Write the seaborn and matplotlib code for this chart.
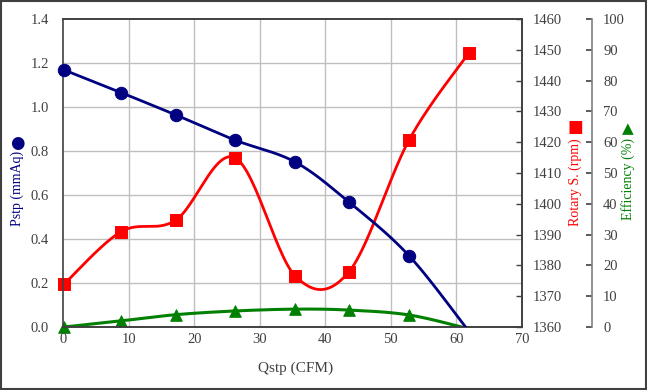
import numpy as np
import matplotlib
matplotlib.use("Agg")
import matplotlib.pyplot as plt
import seaborn as sns
import pandas as pd
from matplotlib.patches import Rectangle

# ---- data ----
qstp = [0.2, 8.9, 17.2, 26.2, 35.4, 43.6, 52.8, 61.9]
pstp = [1.168, 1.065, 0.964, 0.850, 0.750, 0.568, 0.323, -0.02]
rotary = [1374.0, 1391.0, 1394.7, 1415.0, 1376.6, 1377.9, 1420.8, 1449.0]
efficiency = [0.0, 2.0, 4.0, 5.2, 5.8, 5.5, 3.9, -0.6]

xticks = list(range(0, 71, 10))
pticks = [0.0, 0.2, 0.4, 0.6, 0.8, 1.0, 1.2, 1.4]
rticks = list(range(1360, 1461, 10))
eticks = list(range(0, 101, 10))

NAVY = "#000080"
RED = "#FF0000"
GREEN = "#008000"
DARK = "#404040"

sns.set_theme(style="white")
plt.rcParams['font.family'] = ['Liberation Serif', 'DejaVu Sans']

W, H = 647, 390
fig = plt.figure(figsize=(W / 100, H / 100), dpi=100)
L, R, T, B = 63, 522, 19, 327
ax = fig.add_axes([L / W, 1 - B / H, (R - L) / W, (B - T) / H])
ax2 = ax.twinx()
ax3 = ax.twinx()


def smooth(x, y, xlim, ylim, n=30):
    # Catmull-Rom smoothing done in normalized axis space
    x = np.asarray(x, float); y = np.asarray(y, float)
    xs = (x - xlim[0]) / (xlim[1] - xlim[0])
    ys = (y - ylim[0]) / (ylim[1] - ylim[0])
    P = np.column_stack([xs, ys])
    P = np.vstack([P[0], P, P[-1]])
    out = []
    for i in range(1, len(P) - 2):
        p0, p1, p2, p3 = P[i - 1], P[i], P[i + 1], P[i + 2]
        t = np.linspace(0, 1, n)[:, None]
        seg = 0.5 * ((2 * p1) + (-p0 + p2) * t + (2 * p0 - 5 * p1 + 4 * p2 - p3) * t ** 2
                     + (-p0 + 3 * p1 - 3 * p2 + p3) * t ** 3)
        out.append(seg)
    S = np.vstack(out)
    return S[:, 0] * (xlim[1] - xlim[0]) + xlim[0], S[:, 1] * (ylim[1] - ylim[0]) + ylim[0]


xlim = (0, 70)
df = pd.DataFrame({"q": qstp, "p": pstp, "r": rotary, "e": efficiency})

# efficiency (back)
sx, sy = smooth(qstp, efficiency, xlim, (0, 100))
ax3.plot(sx, sy, color=GREEN, lw=2.2, zorder=3)
sns.scatterplot(data=df[df.e >= 0], x="q", y="e", ax=ax3, marker="^", s=70, color=GREEN,
                edgecolor=GREEN, zorder=4, clip_on=False)

# rotary
sx, sy = smooth(qstp, rotary, xlim, (1360, 1460))
ax2.plot(sx, sy, color=RED, lw=2.0, zorder=3)
sns.scatterplot(data=df, x="q", y="r", ax=ax2, marker="s", s=75, color=RED,
                edgecolor=RED, zorder=4, clip_on=False)

# pstp
sx, sy = smooth(qstp, pstp, xlim, (0, 1.4))
ax.plot(sx, sy, color=NAVY, lw=2.0, zorder=3)
sns.scatterplot(data=df[df.p >= 0], x="q", y="p", ax=ax, marker="o", s=80, color=NAVY,
                edgecolor=NAVY, zorder=4, clip_on=False)

ax.set_zorder(3); ax2.set_zorder(2); ax3.set_zorder(1)
ax.patch.set_visible(False)

# axes setup
ax.set_xlim(*xlim); ax.set_ylim(0, 1.4)
ax2.set_ylim(1360, 1460); ax3.set_ylim(0, 100)
ax.set_xticks(xticks); ax.set_yticks(pticks)
ax.set_yticklabels([f"{v:.1f}" for v in pticks])
ax2.set_yticks(rticks); ax3.set_yticks(eticks)
for a in (ax, ax2, ax3):
    a.set_xlabel(""); a.set_ylabel("")

ax3.grid(False); ax2.grid(False)
ax3.set_xlim(*xlim); ax2.set_xlim(*xlim)
for xv in xticks[1:-1]:
    ax3.axvline(xv, color="#BFBFBF", lw=1.0, zorder=0)
for pv in pticks[1:-1]:
    ax3.axhline(pv / 1.4 * 100, color="#BFBFBF", lw=1.0, zorder=0)
ax3.tick_params(axis="x", bottom=False, labelbottom=False)

tick_kw = dict(labelsize=10.5, labelcolor=DARK, colors=DARK)
ax.tick_params(axis="x", direction="in", length=4, width=1, pad=4, **tick_kw)
ax.tick_params(axis="y", direction="in", length=0, pad=10, **tick_kw)
ax2.tick_params(axis="y", direction="in", length=4, width=1, pad=8, **tick_kw)
ax3.tick_params(axis="y", direction="in", length=4, width=1.2, pad=8, **tick_kw)

for a in (ax, ax2):
    for s in a.spines.values():
        s.set_color(DARK); s.set_linewidth(1.2)
for name, s in ax3.spines.items():
    s.set_visible(name == "right")
ax3.spines["right"].set_position(("axes", (592 - L) / (R - L)))
ax3.spines["right"].set_color("#808080")
ax3.spines["right"].set_linewidth(1.2)
ax2.spines["left"].set_visible(False)

# labels
fig.text(17 / W, 1 - 188 / H, "Pstp (mmAq)", rotation=90, ha="center", va="center",
         color=NAVY, fontsize=10)
fig.text(17 / W, 1 - 143 / H, "●", ha="center", va="center",
         color=NAVY, fontsize=12, family="DejaVu Sans")
fig.text(575 / W, 1 - 182 / H, "Rotary S. (rpm)", rotation=90, ha="center", va="center",
         color=RED, fontsize=10)
fig.text(575 / W, 1 - 127 / H, "■", ha="center", va="center",
         color=RED, fontsize=12, family="DejaVu Sans")
fig.text(628 / W, 1 - 179 / H, "Efficiency (%)", rotation=90, ha="center", va="center",
         color=GREEN, fontsize=10)
fig.text(628 / W, 1 - 129 / H, "▲", ha="center", va="center",
         color=GREEN, fontsize=11, family="DejaVu Sans")
fig.text(296 / W, 1 - 368 / H, "Qstp (CFM)", ha="center", va="center", color=DARK, fontsize=11)

fig.patches.append(Rectangle((0.001, 0.002), 0.997, 0.995, transform=fig.transFigure,
                             fill=False, edgecolor=DARK, linewidth=1.5))

fig.savefig("out.png", dpi=100)
